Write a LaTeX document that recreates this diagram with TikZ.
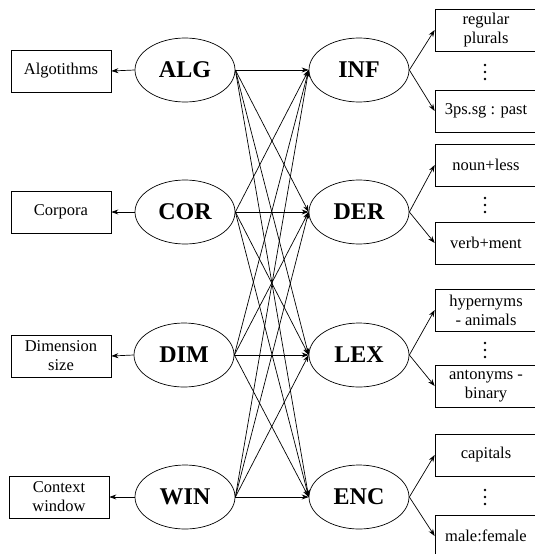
\documentclass[tikz,border=0pt]{standalone}
\usepackage{fontspec}
\setmainfont{Liberation Serif}
\usetikzlibrary{arrows.meta,shapes.geometric}
\begin{document}
\begin{tikzpicture}[x=1pt,y=-1pt,
  ell/.style={draw,ellipse,minimum width=100pt,minimum height=64pt,inner sep=0pt,line width=0.7pt,font=\fontsize{24}{26}\selectfont\bfseries},
  box/.style={draw,rectangle,minimum width=100pt,minimum height=42pt,inner sep=1pt,align=center,line width=0.7pt,font=\fontsize{16.5}{19}\selectfont},
  rbox/.style={box,minimum width=102pt},
  arr/.style={-{Stealth[length=7pt,width=5pt]},line width=0.7pt}]
\useasboundingbox (0,0) rectangle (535,554);
% left ellipses
\node[ell] (alg) at (185,70) {ALG};
\node[ell] (cor) at (185,212) {COR};
\node[ell] (dim) at (184,355) {DIM};
\node[ell] (win) at (185,497) {WIN};
% right ellipses
\node[ell] (inf) at (359,70) {INF};
\node[ell] (der) at (359,212) {DER};
\node[ell] (lex) at (359,355) {LEX};
\node[ell] (enc) at (359,497) {ENC};
% left boxes
\node[box] (b1) at (61,71) {Algotithms};
\node[box] (b2) at (61,212) {Corpora};
\node[box] (b3) at (61,356) {Dimension\\size};
\node[box] (b4) at (59,497) {Context\\window};
% right boxes
\node[rbox] (r1) at (486,30) {regular\\plurals};
\node[rbox] (r2) at (486,111) {3ps.sg : past};
\node[rbox] (r3) at (486,165) {noun+less};
\node[rbox] (r4) at (486,243) {verb+ment};
\node[rbox] (r5) at (486,310) {hypernyms\\- animals};
\node[rbox] (r6) at (486,386) {antonyms -\\binary};
\node[rbox] (r7) at (486,455) {capitals};
\node[rbox] (r8) at (486,536) {male:female};
% vertical dots
\foreach \n/\y in {d1/72,d2/205,d3/350,d4/497}{
  \coordinate (\n) at (485,\y);
  \fill ([yshift=-7pt]\n) circle (1.3pt) (\n) circle (1.3pt) ([yshift=7pt]\n) circle (1.3pt);
}
% left arrows
\draw[arr] (alg.west) -- (b1.east);
\draw[arr] (cor.west) -- (b2.east);
\draw[arr] (dim.west) -- (b3.east);
\draw[arr] (win.west) -- (b4.east);
% right arrows
\draw[arr] (inf.east) -- (r1.west);
\draw[arr] (inf.east) -- (r2.west);
\draw[arr] (der.east) -- (r3.west);
\draw[arr] (der.east) -- (r4.west);
\draw[arr] (lex.east) -- (r5.west);
\draw[arr] (lex.east) -- (r6.west);
\draw[arr] (enc.east) -- (r7.west);
\draw[arr] (enc.east) -- (r8.west);
% full bipartite connections
\foreach \a in {alg,cor,dim,win}{
  \foreach \b in {inf,der,lex,enc}{
    \draw[arr] (\a.east) -- (\b.west);
  }
}
\end{tikzpicture}
\end{document}
